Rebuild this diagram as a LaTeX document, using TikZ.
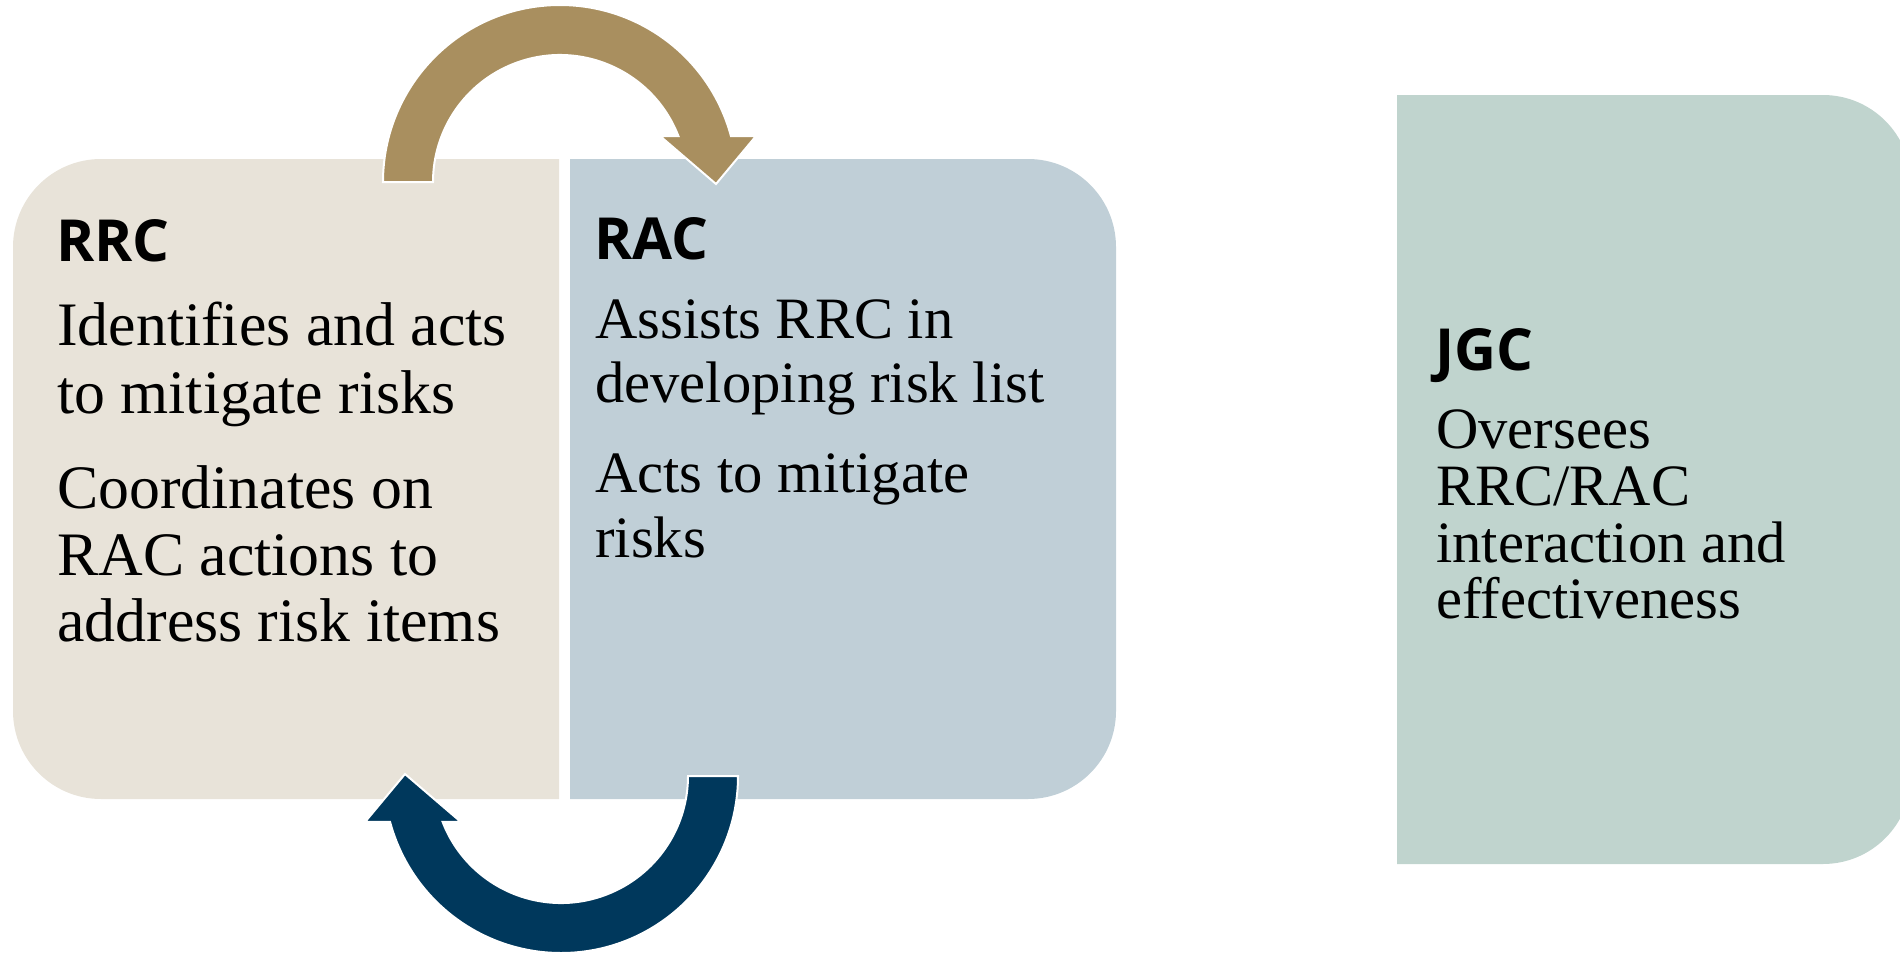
\documentclass[tikz,border=0pt]{standalone}
\usepackage{fontspec}
\usepackage[T1,TU]{fontenc}
\newfontfamily\headfont{Open Sans}
\def\bodychoice{lib}
\IfFileExists{texgyrepagella-regular.otf}{\def\bodychoice{pag}}{}
\IfFileExists{t1ppl.fd}{\IfFileExists{pplr8t.tfm}{\IfFileExists{uplr8a.pfb}{\def\bodychoice{ppl}}{}}{}}{}
\def\choiceppl{ppl}\def\choicepag{pag}
\newcommand\palfont{}
\ifx\bodychoice\choiceppl
  \renewcommand\palfont{\fontencoding{T1}\fontfamily{ppl}\selectfont}
  \def\sizeL{56}\def\sizeS{53}
\else\ifx\bodychoice\choicepag
  \newfontfamily\pagfont{texgyrepagella-regular.otf}
  \renewcommand\palfont{\pagfont}
  \def\sizeL{56}\def\sizeS{53}
\else
  \newfontfamily\libfont{Liberation Serif}
  \renewcommand\palfont{\libfont}
  \def\sizeL{61.8}\def\sizeS{58.6}
\fi\fi
\definecolor{rrcfill}{HTML}{E8E3D9}
\definecolor{racfill}{HTML}{C0CFD7}
\definecolor{jgcfill}{HTML}{C0D4CE}
\definecolor{goldarrow}{HTML}{A98F5F}
\definecolor{navyarrow}{HTML}{00385C}
\begin{document}
\begin{tikzpicture}[x=1pt,y=1pt,
  headtxt/.style={font=\headfont\bfseries\fontsize{58}{70}\selectfont, anchor=base west, inner sep=0pt},
  bodyL/.style={font=\palfont\fontsize{\sizeL}{68}\selectfont, anchor=base west, inner sep=0pt},
  bodyS/.style={font=\palfont\fontsize{\sizeS}{64}\selectfont, anchor=base west, inner sep=0pt},
  arrowshape/.style={draw=white, line width=2pt, line join=miter}]
\useasboundingbox (0,0) rectangle (1900,-953);
\clip (0,0) rectangle (1900,-953);

% boxes
\fill[rrcfill] (559,-159) -- (101,-159) arc[start angle=90,end angle=180,radius=88]
  -- (13,-711) arc[start angle=180,end angle=270,radius=88] -- (559,-799) -- cycle;
\fill[racfill] (570,-159) -- (1028,-159) arc[start angle=90,end angle=0,radius=88]
  -- (1116,-711) arc[start angle=0,end angle=-90,radius=88] -- (570,-799) -- cycle;
\fill[jgcfill] (1397,-95) -- (1823,-95) arc[start angle=90,end angle=0,radius=88]
  -- (1911,-776) arc[start angle=0,end angle=-90,radius=88] -- (1397,-864) -- cycle;

% circular arrows
\path[arrowshape, fill=goldarrow]
  ([shift={(560,-182)}]180:177) arc[start angle=180,end angle=15,radius=177]
  -- (756,-136) -- (716,-184) -- (660,-136)
  -- ([shift={(560,-182)}]21.2:127) arc[start angle=21.2,end angle=180,radius=127] -- cycle;
\begin{scope}[rotate around={180:(560.5,-479)}]
\path[arrowshape, fill=navyarrow]
  ([shift={(560,-182)}]180:177) arc[start angle=180,end angle=15,radius=177]
  -- (756,-136) -- (716,-184) -- (660,-136)
  -- ([shift={(560,-182)}]21.2:127) arc[start angle=21.2,end angle=180,radius=127] -- cycle;
\end{scope}

% RRC text
\node[headtxt] (rrch) at (56,-261) {RRC};
\node[bodyL] (rrc1a) at (57,-345) {Identifies and acts};
\node[bodyL] (rrc1b) at (57,-413) {to mitigate risks};
\node[bodyL] (rrc2a) at (57,-508) {Coordinates on};
\node[bodyL] (rrc2b) at (57,-575) {RAC actions to};
\node[bodyL] (rrc2c) at (57,-641) {address risk items};

% RAC text
\node[headtxt] (rach) at (594,-259) {RAC};
\node[bodyS] (rac1a) at (595,-338) {Assists RRC in};
\node[bodyS] (rac1b) at (595,-402) {developing risk list};
\node[bodyS] (rac2a) at (595,-492) {Acts to mitigate};
\node[bodyS] (rac2b) at (595,-557) {risks};

% JGC text
\node[headtxt] (jgch) at (1435,-370) {JGC};
\node[bodyS] (jgc1) at (1436,-448) {Oversees};
\node[bodyS] (jgc2) at (1436,-505) {RRC/RAC};
\node[bodyS] (jgc3) at (1436,-562) {interaction and};
\node[bodyS] (jgc4) at (1436,-618) {effectiveness};
\end{tikzpicture}
\end{document}
